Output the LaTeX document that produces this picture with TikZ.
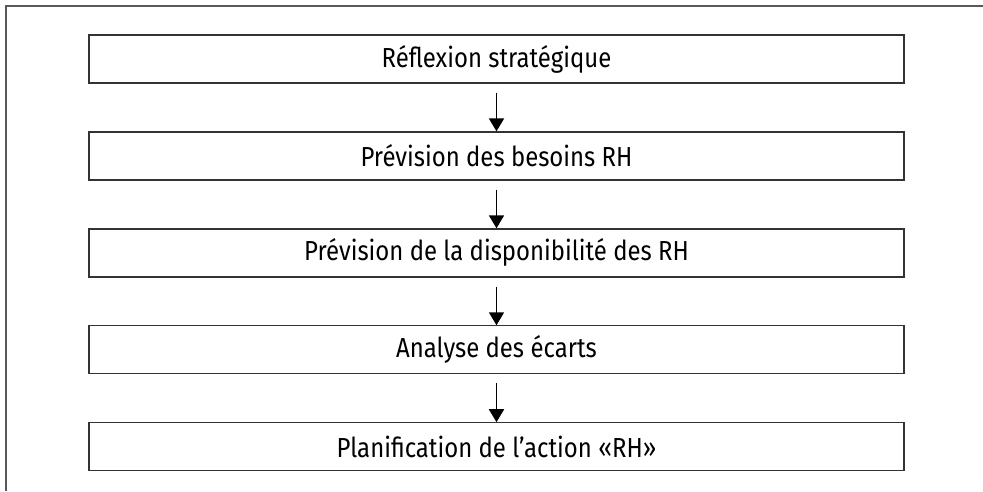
\documentclass[tikz,border=0pt]{standalone}
\usepackage{fontspec}
\setmainfont{Fira Sans}[FakeStretch=0.87]
\usepackage{tikz}
\usetikzlibrary{arrows.meta, positioning}

\begin{document}
\begin{tikzpicture}[x=1pt,y=1pt,node distance=47.75pt,
    stage/.style={draw=black!80,line width=1.2pt,minimum width=815pt,minimum height=48pt,inner sep=0pt,font=\fontsize{27.5}{32}\selectfont},
    flow/.style={-{Triangle[length=13pt,width=15pt]},line width=1.8pt,shorten <=9pt}]
            \useasboundingbox (0,0) rectangle (983,-491);
            \draw[black!65,line width=1.6pt] (6,-491) -- (6,-6) -- (983,-6);
            \node[stage] (reflexion) at (496.5,-59) {Réflexion stratégique};
            \node[stage] (besoins) [below = of reflexion] {Prévision des besoins RH};
            \node[stage] (dispo) [below = of besoins] {Prévision de la disponibilité des RH};
            \node[stage] (ecarts) [below = of dispo] {Analyse des écarts};
            \node[stage] (action) [below = of ecarts] {Planification de l’action «RH»};
            \draw[flow] (reflexion) -- (besoins);
            \draw[flow] (besoins) -- (dispo);
            \draw[flow] (dispo) -- (ecarts);
            \draw[flow] (ecarts) -- (action);
        \end{tikzpicture}
\end{document}
